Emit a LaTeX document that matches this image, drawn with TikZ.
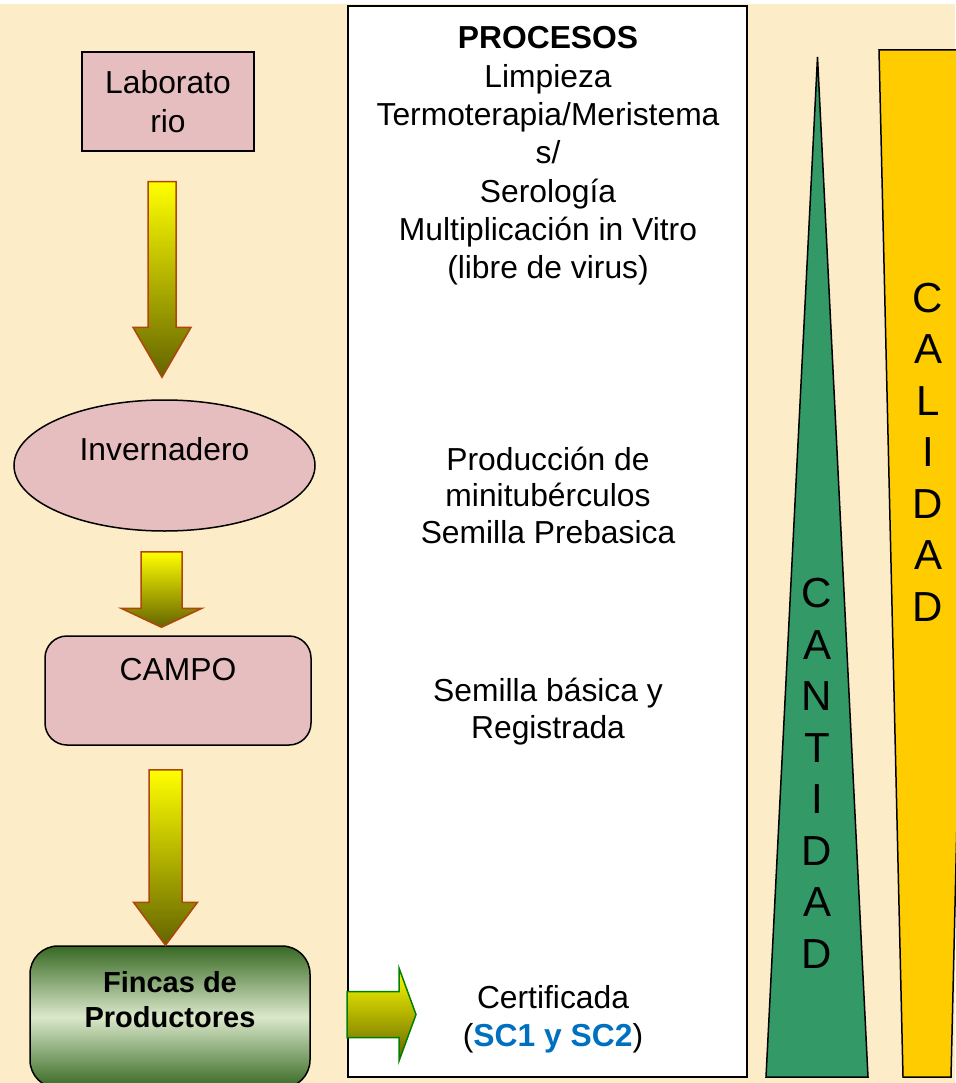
\documentclass[tikz,border=0pt]{standalone}
\usepackage{fontspec}
\setmainfont{Liberation Sans}
\usepackage{tikz}
\usetikzlibrary{calc,shapes.geometric}
\definecolor{crema}{RGB}{252,236,200}
\definecolor{rosa}{RGB}{230,190,191}
\definecolor{verdeT}{RGB}{51,153,102}
\definecolor{oro}{RGB}{255,204,0}
\definecolor{oliva}{RGB}{100,100,0}
\definecolor{ladrillo}{RGB}{175,70,10}
\definecolor{verdeO}{RGB}{55,105,35}
\definecolor{verdeC}{RGB}{218,232,202}
\definecolor{verdeB}{RGB}{0,128,0}
\definecolor{azul}{RGB}{0,112,192}

\newcommand{\flechaabajo}[5]{% desde, hasta, medio ancho, medio ancho punta, largo punta
  \shade[flecha] let \p1=(#1), \p2=(#2) in
    (\x1-#3pt,\y1) -- (\x1+#3pt,\y1) -- (\x1+#3pt,\y2+#5pt) -- (\x1+#4pt,\y2+#5pt)
    -- (\x2,\y2) -- (\x1-#4pt,\y2+#5pt) -- (\x1-#3pt,\y2+#5pt) -- cycle;}

\begin{document}
\begin{tikzpicture}[x=1pt,y=-1pt,
    every node/.style={font=\fontsize{31.8}{38.3}\selectfont},
    caja/.style={draw=black, line width=1.5pt, fill=rosa, inner sep=0pt},
    flecha/.style={top color=yellow, bottom color=oliva, draw=ladrillo, line width=1.5pt},
    letras/.style={align=center, font=\fontsize{42}{51.5}\selectfont}]
  \useasboundingbox (0,0) rectangle (955,1083);
  \fill[white] (0,0) rectangle (955,4);
  \fill[crema] (0,4) rectangle (955,1083);

  \node[draw, line width=2pt, fill=white, minimum width=399pt, minimum height=1071pt, inner sep=0pt] (proc) at (547.5,541.5) {};

  \node[caja, minimum width=172pt, minimum height=99pt, align=center] (lab) at (168,101.5) {Laborato\\rio};
  \node[caja, ellipse, minimum width=301pt, minimum height=131pt,
    label={[yshift=16.5pt]center:Invernadero}] (inv) at (164.5,465.5) {};
  \node[caja, rounded corners=22pt, minimum width=266pt, minimum height=109pt,
    label={[yshift=20.5pt]center:CAMPO}] (campo) at (178,690.5) {};
  \node[draw, line width=1.5pt, rounded corners=28pt, top color=verdeO, bottom color=verdeO, middle color=verdeC,
    minimum width=280pt, minimum height=142pt, inner sep=0pt,
    label={[yshift=17.7pt, align=center, font=\bfseries\fontsize{29}{35}\selectfont]center:Fincas de\\Productores}] (fincas) at (170,1017) {};

  \flechaabajo{$(lab.south)+(-6,30)$}{$(inv.north)+(-2.5,-22)$}{14}{29}{50}
  \flechaabajo{$(inv.south)+(-3,20)$}{$(campo.north)+(-16.5,-8)$}{20.5}{40.5}{19}
  \flechaabajo{$(campo.south)+(-12.5,24)$}{$(fincas.north)+(-4.5,0)$}{16.5}{32}{43}

  \coordinate (fd0) at (proc.west |- 0,1014.5);
  \coordinate (fd1) at (416,1014.5);
  \shade[flecha, draw=verdeB] let \p1=(fd0), \p2=(fd1) in
    (\x1,\y1+23pt) -- (\x2-17pt,\y1+23pt) -- (\x2-17pt,\y1+46.5pt) -- (\x2,\y2)
    -- (\x2-17pt,\y1-46.5pt) -- (\x2-17pt,\y1-23pt) -- (\x1,\y1-23pt) -- cycle;

  \node[align=center] (t1) at (548,156) {\textbf{PROCESOS}\\Limpieza\\Termoterapia/Meristema\\s/\\Serología\\Multiplicación in Vitro\\(libre de virus)};
  \node[align=center, font=\fontsize{31.8}{36.5}\selectfont] (t2) at (548,495) {Producción de\\minitubérculos\\Semilla Prebasica};
  \node[align=center, font=\fontsize{31.8}{37}\selectfont] (t3) at (548,711.5) {Semilla básica y\\Registrada};
  \node[align=center] (t4) at (553,1019) {Certificada\\(\textcolor{azul}{\textbf{SC1 y SC2}})};

  \filldraw[fill=verdeT, draw=black, line width=1.5pt] (766,1077) -- (817.5,57) -- (868,1077) -- cycle;
  \filldraw[fill=oro, draw=black, line width=1.5pt] (879,50) -- (975,50) -- (951,1077) -- (903,1077) -- cycle;
  \node[letras] (cant) at (817,773.5) {C\\A\\N\\T\\I\\D\\A\\D};
  \node[letras] (cal) at (928,452) {C\\A\\L\\I\\D\\A\\D};
\end{tikzpicture}
\end{document}
